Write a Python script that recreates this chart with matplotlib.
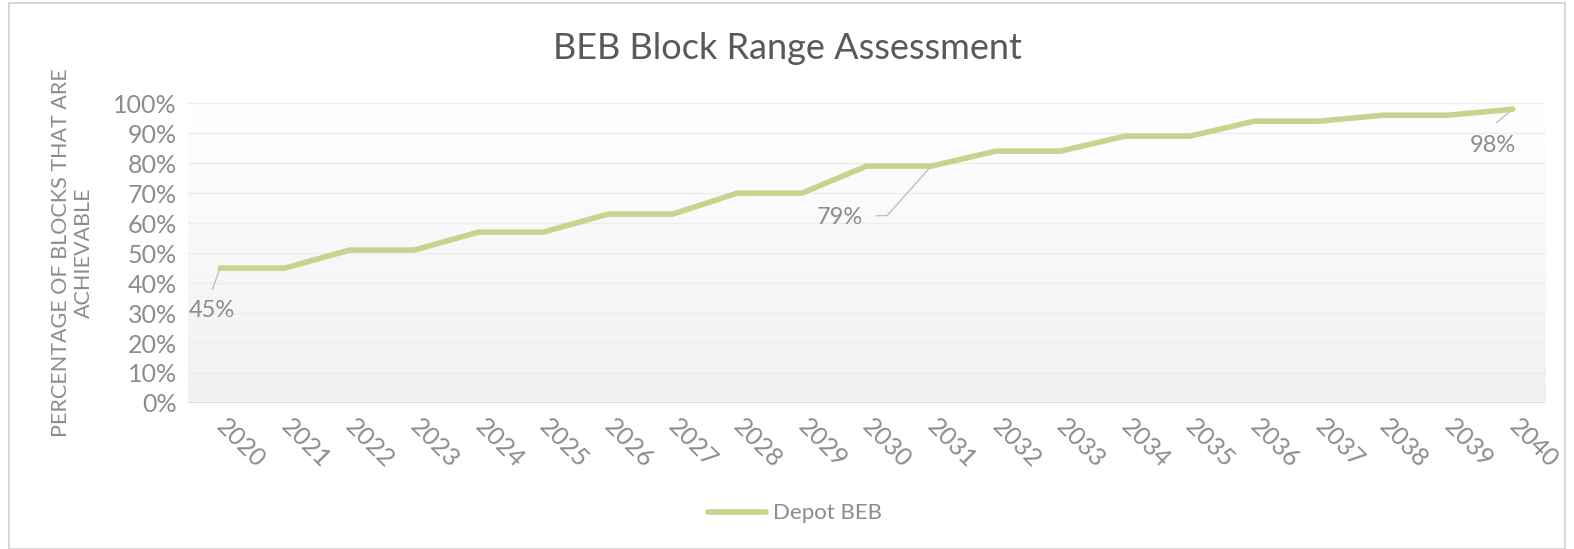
import numpy as np
import matplotlib.pyplot as plt
from matplotlib.patches import Rectangle

plt.rcParams['font.family'] = ['Lato', 'DejaVu Sans']

years = [str(y) for y in range(2020, 2041)]
depot_beb = [45, 45, 51, 51, 57, 57, 63, 63, 70, 70, 79, 79, 84, 84, 89, 89, 94, 94, 96, 96, 98]
y_ticks = [0, 10, 20, 30, 40, 50, 60, 70, 80, 90, 100]

grey = '#8c8c8c'
green = '#c4d58e'

fig = plt.figure(figsize=(15.74, 5.49), dpi=100)
fig.patches.append(Rectangle((0.006, 0.0), 0.988, 0.995, transform=fig.transFigure,
                             fill=False, edgecolor='#d0d0d0', linewidth=1.2))

ax = fig.add_axes([0.1194, 0.266, 0.8622, 0.546])
x = np.arange(len(years))
ax.set_xlim(-0.5, len(years) - 0.5)
ax.set_ylim(0, 100)

# gradient background, light grey at the bottom to white at the top
grad = np.linspace(0, 1, 256).reshape(-1, 1)
ax.imshow(grad, extent=[-0.5, len(years) - 0.5, 0, 100], origin='lower',
          cmap=plt.matplotlib.colors.LinearSegmentedColormap.from_list('g', ['#f1f1f1', '#ffffff']),
          aspect='auto', zorder=0)

for t in y_ticks[1:]:
    ax.axhline(t, color='#ececec', linewidth=1, zorder=1)
ax.axhline(0, color='#d9d9d9', linewidth=1.2, zorder=1)

ax.plot(x, depot_beb, color=green, linewidth=4, solid_capstyle='round', zorder=3, label='Depot BEB')

# data labels with leader lines
ax.plot([-0.12, 0], [38, 45], color='#bfbfbf', linewidth=1, zorder=2)
ax.text(-0.48, 31, '45%', color=grey, fontsize=17, ha='left', va='center')
ax.plot([11, 10.32, 10.15], [79, 62.5, 62.5], color='#bfbfbf', linewidth=1, zorder=2)
ax.text(9.95, 62, '79%', color=grey, fontsize=17, ha='right', va='center')
ax.plot([20, 19.75], [98, 93.5], color='#bfbfbf', linewidth=1, zorder=2)
ax.text(19.7, 86, '98%', color=grey, fontsize=17, ha='center', va='center')

ax.set_xticks(x)
ax.set_xticklabels(years, rotation=-45, rotation_mode='anchor', ha='left', va='center')
ax.set_yticks(y_ticks)
ax.set_yticklabels([f'{t}%' for t in y_ticks])
ax.tick_params(axis='both', length=0, colors=grey, labelsize=18)
ax.tick_params(axis='x', pad=14)
ax.tick_params(axis='y', pad=8)
for s in ax.spines.values():
    s.set_visible(False)

ax.set_ylabel('PERCENTAGE OF BLOCKS THAT ARE\nACHIEVABLE', color=grey, fontsize=15.5, labelpad=14)

fig.text(0.5, 0.912, 'BEB Block Range Assessment', ha='center', va='center', fontsize=26, color='#595959')

fig.legend(loc='center', bbox_to_anchor=(0.505, 0.065), frameon=False, fontsize=16,
           labelcolor=grey, handlelength=2.6, handletextpad=0.3)

fig.savefig('out.png', dpi=100)
